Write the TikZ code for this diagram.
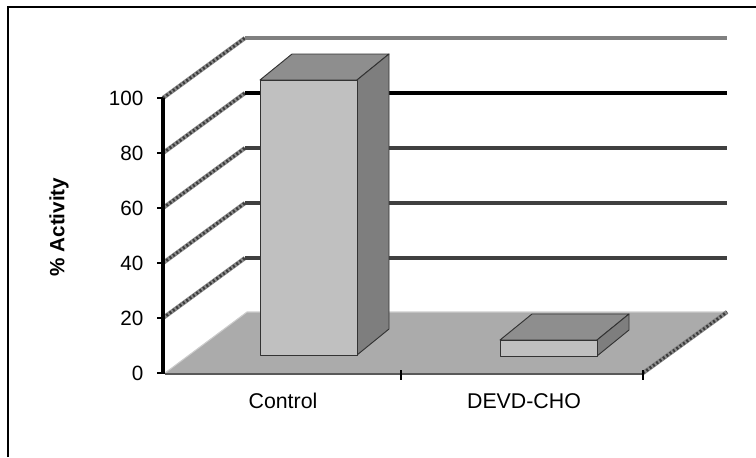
\documentclass[tikz,border=0pt]{standalone}
\usepackage{fontspec}
\setmainfont{Liberation Sans}
\definecolor{barfront}{HTML}{C0C0C0}
\definecolor{barside}{HTML}{7E7E7E}
\definecolor{bartop}{HTML}{8E8E8E}
\definecolor{floorfill}{HTML}{ABABAB}
\definecolor{griddark}{HTML}{404040}
\definecolor{gridtop}{HTML}{808080}
\definecolor{ropelight}{HTML}{8C8C8C}
\definecolor{ropedark}{HTML}{3C3C3C}
\tikzset{
  rope/.style={draw=ropelight,line width=3.2pt,
    postaction={draw=ropedark,line width=2.2pt,dash pattern=on 1.5pt off 1.6pt}},
  wall/.style={line width=3pt,draw=#1},
  face/.style={fill=#1,draw=black!80,line width=0.7pt,line join=round},
  ticklab/.style={anchor=east,inner sep=1pt,font=\fontsize{15.5}{18}\selectfont},
  catlab/.style={font=\fontsize{16}{19}\selectfont},
}

\begin{document}
\begin{tikzpicture}[x=0.75pt,y=-0.75pt]
\useasboundingbox (0,0) rectangle (756,457);

% frame
\draw[line width=1.5pt] (8,457) -- (8,7) -- (756,7);

% side wall
\draw[rope] (163,318) -- (245,258);
\draw[rope] (163,263) -- (245,203);
\draw[rope] (163,208) -- (245,148);
\draw[rope] (163,153) -- (245,93);
\draw[rope] (163,98) -- (245,38);

% back wall
\draw[wall=gridtop] (245,38) -- (727,38);
\draw[wall=black] (245,93) -- (727,93);
\draw[wall=griddark] (245,148) -- (727,148);
\draw[wall=griddark] (245,203) -- (727,203);
\draw[wall=griddark] (245,258) -- (727,258);

% floor
\fill[floorfill] (165,373) -- (643,373) -- (727,312) -- (247,312) -- cycle;
\draw[draw=black!20,line width=0.8pt] (165,373) -- (247,312) -- (727,312);
\draw[rope] (643,373) -- (727,312);
\draw[line width=2pt,draw=black!65] (165,374) -- (643,374);
\draw[line width=1pt] (401,370) -- (401,380);
\draw[line width=1pt] (643,370) -- (643,380);

% value axis
\draw[line width=2.4pt] (163,98) -- (163,374);
\draw[line width=1pt] (157,98) -- (163,98);
\draw[line width=1pt] (157,153) -- (163,153);
\draw[line width=1pt] (157,208) -- (163,208);
\draw[line width=1pt] (157,263) -- (163,263);
\draw[line width=1pt] (157,318) -- (163,318);
\draw[line width=1pt] (157,373) -- (163,373);

\node[ticklab] (t100) at (145,98) {100};
\node[ticklab] (t80) at (145,153) {80};
\node[ticklab] (t60) at (145,208) {60};
\node[ticklab] (t40) at (145,263) {40};
\node[ticklab] (t20) at (145,318) {20};
\node[ticklab] (t0) at (145,373) {0};

\node[rotate=90,font=\fontsize{15.5}{18}\selectfont\bfseries] (ylab) at (59,227) {\% Activity};

% control bar
\path[face=bartop] (260,80) -- (357,80) -- (389,54) -- (292,54) -- cycle;
\path[face=barside] (357,80) -- (389,54) -- (389,329) -- (357,355) -- cycle;
\path[face=barfront] (260,80) rectangle (357,355);

% DEVD-CHO bar
\path[face=bartop] (500,340) -- (597,340) -- (629,314) -- (532,314) -- cycle;
\path[face=barside] (597,340) -- (629,314) -- (629,330) -- (597,356) -- cycle;
\path[face=barfront] (500,340) rectangle (597,356);

\node[catlab] (control) at (283,401) {Control};
\node[catlab] (devd) at (524,401) {DEVD-CHO};

\end{tikzpicture}
\end{document}
